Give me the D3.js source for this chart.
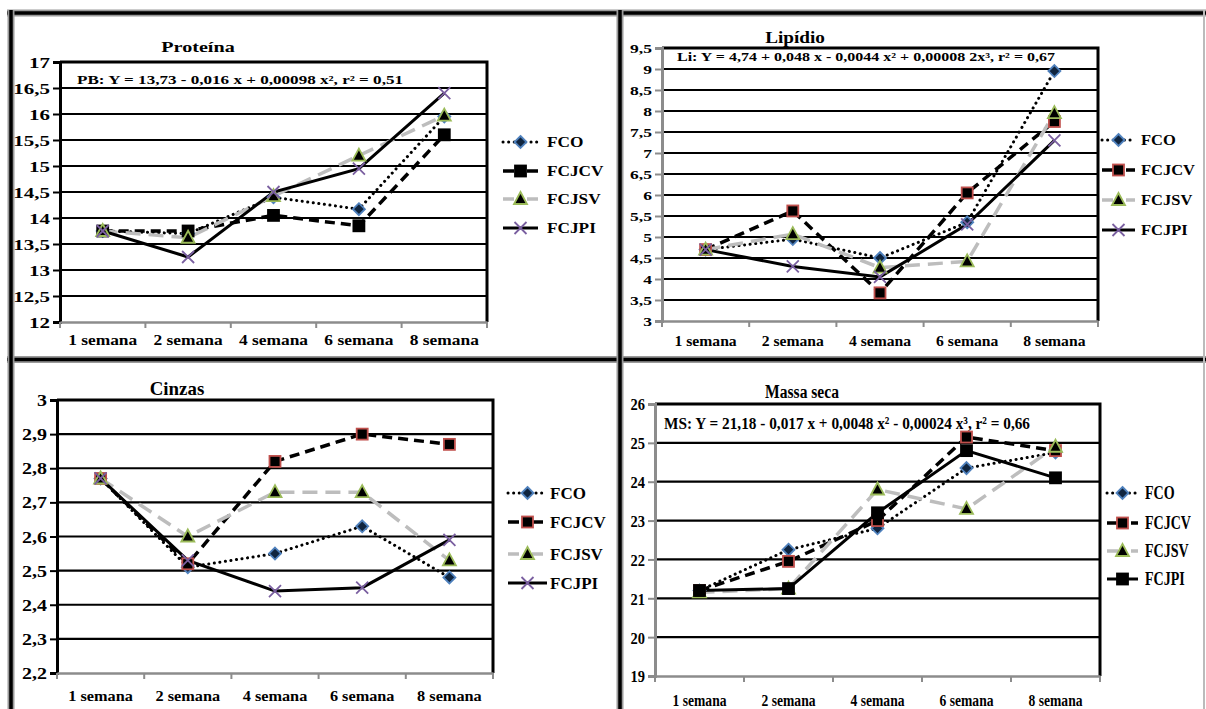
<!DOCTYPE html>
<html>
<head>
<meta charset="utf-8">
<script src="https://cdn.jsdelivr.net/npm/d3@7"></script>
<style>
body { margin: 0; background: #fff; }
</style>
</head>
<body>
<svg id="chart" width="1206" height="709"></svg>
<script>
// categories and series names
var weeks = ["1 semana", "2 semana", "4 semana", "6 semana", "8 semana"];
var seriesNames = ["FCO", "FCJCV", "FCJSV", "FCJPI"];

// Proteína
var protFCO   = [13.75, 13.70, 14.40, 14.17, 15.95];
var protFCJCV = [13.75, 13.75, 14.05, 13.85, 15.60];
var protFCJSV = [13.75, 13.62, 14.42, 15.20, 15.97];
var protFCJPI = [13.75, 13.25, 14.50, 14.95, 16.40];
var protTicks = [12, 12.5, 13, 13.5, 14, 14.5, 15, 15.5, 16, 16.5, 17];

// Lipídio
var lipFCO   = [4.70, 4.95, 4.50, 5.35, 8.95];
var lipFCJCV = [4.70, 5.62, 3.67, 6.05, 7.75];
var lipFCJSV = [4.70, 5.07, 4.27, 4.42, 7.95];
var lipFCJPI = [4.70, 4.30, 4.05, 5.30, 7.30];
var lipTicks = [3, 3.5, 4, 4.5, 5, 5.5, 6, 6.5, 7, 7.5, 8, 8.5, 9, 9.5];

// Cinzas
var cinFCO   = [2.77, 2.51, 2.55, 2.63, 2.48];
var cinFCJCV = [2.77, 2.52, 2.82, 2.90, 2.87];
var cinFCJSV = [2.77, 2.60, 2.73, 2.73, 2.53];
var cinFCJPI = [2.77, 2.53, 2.44, 2.45, 2.59];
var cinTicks = [2.2, 2.3, 2.4, 2.5, 2.6, 2.7, 2.8, 2.9, 3];

// Massa seca
var msFCO   = [21.20, 22.25, 22.80, 24.35, 24.75];
var msFCJCV = [21.20, 21.95, 23.00, 25.15, 24.80];
var msFCJSV = [21.15, 21.25, 23.80, 23.30, 24.90];
var msFCJPI = [21.20, 21.25, 23.20, 24.80, 24.10];
var msTicks = [19, 20, 21, 22, 23, 24, 25, 26];

var FONT = "'Liberation Serif', 'Times New Roman', serif";
var svg = d3.select("#chart");

// panel frame: gray fringe with a black line on top
function frameLine(x1, y1, x2, y2) {
  svg.append("line").attr("x1", x1).attr("y1", y1).attr("x2", x2).attr("y2", y2)
     .attr("stroke", "#9a9a9a").attr("stroke-width", 7);
  svg.append("line").attr("x1", x1).attr("y1", y1).attr("x2", x2).attr("y2", y2)
     .attr("stroke", "#000").attr("stroke-width", 3.5);
}
frameLine(7, 13, 1206, 13);
frameLine(7, 359.5, 1206, 359.5);
frameLine(11, 10, 11, 709);
frameLine(620, 10, 620, 709);
svg.append("line").attr("x1", 1204).attr("y1", 10).attr("x2", 1204).attr("y2", 709)
   .attr("stroke", "#bbb").attr("stroke-width", 2);

function serif(sel, fs) {
  return sel.attr("font-family", FONT).attr("font-weight", "bold").attr("font-size", fs)
    .style("font-family", FONT).style("font-weight", "bold").style("font-size", fs + "px")
    .attr("fill", "#000");
}

// one stretched text label
function label(g, x, y, txt, anchor, fs, sx) {
  return serif(g.append("text")
    .attr("transform", "translate(" + x + "," + y + ") scale(" + sx + ",1)")
    .attr("text-anchor", anchor), fs)
    .text(txt);
}

var lineStyles = [
  { color: "#000", width: 3, dash: "0.1,5.5", legDash: "0.1,5.5", cap: "round" },
  { color: "#000", width: 3.5, dash: "10,6", legDash: "11,13", cap: "butt" },
  { color: "#bdbdbd", width: 3.5, dash: "15,8", legDash: "11,13", cap: "butt" },
  { color: "#000", width: 3, dash: null, legDash: null, cap: "butt" }
];

function drawMarker(g, kind, x, y) {
  if (kind == "diamond") {
    g.append("path").attr("d", "M" + x + "," + (y - 6) + "L" + (x + 6) + "," + y + "L" + x + "," + (y + 6) + "L" + (x - 6) + "," + y + "Z")
      .attr("fill", "#10253f").attr("stroke", "#4f81bd").attr("stroke-width", 1.8);
  } else if (kind == "squareRed" || kind == "square") {
    g.append("rect").attr("x", x - 5.5).attr("y", y - 5.5).attr("width", 11).attr("height", 11)
      .attr("fill", "#000").attr("stroke", kind == "squareRed" ? "#c0504d" : "#000").attr("stroke-width", 1.8);
  } else if (kind == "triangle") {
    g.append("path").attr("d", "M" + x + "," + (y - 7) + "L" + (x + 6.5) + "," + (y + 5) + "L" + (x - 6.5) + "," + (y + 5) + "Z")
      .attr("fill", "#000").attr("stroke", "#9bbb59").attr("stroke-width", 1.8);
  } else if (kind == "cross") {
    g.append("path").attr("d", "M" + (x - 6) + "," + (y - 6) + "L" + (x + 6) + "," + (y + 6) + "M" + (x + 6) + "," + (y - 6) + "L" + (x - 6) + "," + (y + 6))
      .attr("stroke", "#7a5fa0").attr("stroke-width", 1.8);
  }
}

function styleLine(sel, st, dash) {
  sel.attr("fill", "none").attr("stroke", st.color).attr("stroke-width", st.width)
     .attr("stroke-linecap", st.cap).attr("stroke-dasharray", dash);
}

function drawPanel(p) {
  var g = svg.append("g");
  var y = d3.scaleLinear().domain([p.ticks[0], p.ticks[p.ticks.length - 1]]).range([p.y1, p.y0]);
  var x = d3.scaleBand().domain(weeks).range([p.x0, p.x1]);

  // gridlines
  g.selectAll("line.grid").data(p.ticks.slice(1)).enter().append("line")
    .attr("x1", p.x0).attr("x2", p.x1)
    .attr("y1", function(d) { return y(d); }).attr("y2", function(d) { return y(d); })
    .attr("stroke", "#000").attr("stroke-width", 2.2);
  // plot border top/right
  g.append("path").attr("d", "M" + p.x0 + "," + p.y0 + "H" + p.x1 + "V" + p.y1)
    .attr("fill", "none").attr("stroke", "#000").attr("stroke-width", 3);

  // y axis
  var ya = g.append("g").attr("transform", "translate(" + p.x0 + ",0)")
    .call(d3.axisLeft(y).tickValues(p.ticks).tickSize(7).tickFormat(function(d) { return String(d).replace(".", ","); }));
  ya.attr("font-family", null).attr("font-size", null);
  ya.select(".domain").attr("stroke", p.axisColor).attr("stroke-width", 3);
  ya.selectAll(".tick line").attr("stroke", p.axisColor).attr("stroke-width", 2);
  serif(ya.selectAll(".tick text").attr("x", null).attr("dy", "0.35em")
    .attr("transform", "translate(-10,0) scale(" + p.tickSx + ",1)"), p.tickFs);

  // x axis: band boundaries carry the ticks
  var xa = g.append("g").attr("transform", "translate(0," + p.y1 + ")")
    .call(d3.axisBottom(x).tickSize(0));
  xa.attr("font-family", null).attr("font-size", null);
  xa.select(".domain").attr("stroke", "#8c8c8c").attr("stroke-width", 2.5);
  serif(xa.selectAll(".tick text").attr("y", null).attr("dy", null)
    .attr("transform", "translate(0," + p.xLabelDy + ") scale(" + p.xSx + ",1)"), p.xFs);
  g.selectAll("line.xtick").data(d3.range(weeks.length + 1)).enter().append("line")
    .attr("x1", function(i) { return p.x0 + i * x.step(); })
    .attr("x2", function(i) { return p.x0 + i * x.step(); })
    .attr("y1", p.y1).attr("y2", p.y1 + 6)
    .attr("stroke", "#8c8c8c").attr("stroke-width", 2);

  // title and equation
  label(g, p.titleX, p.titleY, p.title, "middle", p.titleFs, p.titleSx);
  if (p.eq) {
    serif(g.append("text").attr("x", p.eqX).attr("y", p.eqY)
      .attr("textLength", p.eqLen).attr("lengthAdjust", "spacingAndGlyphs"), p.eqFs).text(p.eq);
  }

  // series
  var line = d3.line().x(function(d, i) { return x(weeks[i]) + x.bandwidth() / 2; }).y(function(d) { return y(d); });
  p.series.forEach(function(vals, k) {
    styleLine(g.append("path").datum(vals).attr("d", line), lineStyles[k], lineStyles[k].dash);
  });
  p.series.forEach(function(vals, k) {
    vals.forEach(function(v, i) {
      drawMarker(g, p.markers[k], x(weeks[i]) + x.bandwidth() / 2, y(v));
    });
  });

  // legend
  seriesNames.forEach(function(name, k) {
    var ly = p.legY[k];
    styleLine(g.append("line").attr("x1", p.legX0).attr("x2", p.legX1).attr("y1", ly).attr("y2", ly), lineStyles[k], lineStyles[k].legDash);
    drawMarker(g, p.markers[k], (p.legX0 + p.legX1) / 2, ly);
    label(g, p.legTx, ly + p.legFs * 0.35, name, "start", p.legFs, p.legSx);
  });
}

drawPanel({
  x0: 60, x1: 487, y0: 62, y1: 322, ticks: protTicks, axisColor: "#000",
  series: [protFCO, protFCJCV, protFCJSV, protFCJPI],
  markers: ["diamond", "square", "triangle", "cross"],
  tickFs: 15, tickSx: 1.4, xFs: 14.5, xSx: 1.2, xLabelDy: 23,
  title: "Proteína", titleX: 198, titleY: 52, titleFs: 15.5, titleSx: 1.3,
  eq: "PB: Y = 13,73 - 0,016 x + 0,00098 x², r² = 0,51", eqX: 77, eqY: 84, eqLen: 326, eqFs: 12.5,
  legX0: 503, legX1: 538, legTx: 547, legY: [142, 171, 199, 228], legFs: 15, legSx: 1.15
});

drawPanel({
  x0: 662, x1: 1098, y0: 48, y1: 321, ticks: lipTicks, axisColor: "#8c8c8c",
  series: [lipFCO, lipFCJCV, lipFCJSV, lipFCJPI],
  markers: ["diamond", "squareRed", "triangle", "cross"],
  tickFs: 13, tickSx: 1.35, xFs: 14.5, xSx: 1.08, xLabelDy: 25,
  title: "Lipídio", titleX: 795, titleY: 43, titleFs: 16, titleSx: 1.2,
  eq: "Li: Y = 4,74 + 0,048 x - 0,0044 x² + 0,00008 2x³, r² = 0,67", eqX: 677, eqY: 61, eqLen: 378, eqFs: 13,
  legX0: 1102, legX1: 1135, legTx: 1141, legY: [140, 170, 200, 230], legFs: 15, legSx: 1.1
});

drawPanel({
  x0: 57, x1: 493, y0: 400, y1: 673, ticks: cinTicks, axisColor: "#000",
  series: [cinFCO, cinFCJCV, cinFCJSV, cinFCJPI],
  markers: ["diamond", "squareRed", "triangle", "cross"],
  tickFs: 16, tickSx: 1.25, xFs: 15.5, xSx: 1.05, xLabelDy: 28,
  title: "Cinzas", titleX: 177, titleY: 395, titleFs: 18, titleSx: 1.05,
  eq: null,
  legX0: 508, legX1: 547, legTx: 550, legY: [493, 522, 554, 583], legFs: 17, legSx: 1.0
});

drawPanel({
  x0: 655, x1: 1100, y0: 404, y1: 676, ticks: msTicks, axisColor: "#8c8c8c",
  series: [msFCO, msFCJCV, msFCJSV, msFCJPI],
  markers: ["diamond", "squareRed", "triangle", "square"],
  tickFs: 17, tickSx: 0.85, xFs: 17, xSx: 0.8, xLabelDy: 30,
  title: "Massa seca", titleX: 802, titleY: 398, titleFs: 19, titleSx: 0.82,
  eq: "MS: Y = 21,18 - 0,017 x + 0,0048 x² - 0,00024 x³, r² = 0,66", eqX: 664, eqY: 429, eqLen: 366, eqFs: 17,
  legX0: 1107, legX1: 1138, legTx: 1145, legY: [493, 523, 551, 579], legFs: 18, legSx: 0.78
});
</script>
</body>
</html>
